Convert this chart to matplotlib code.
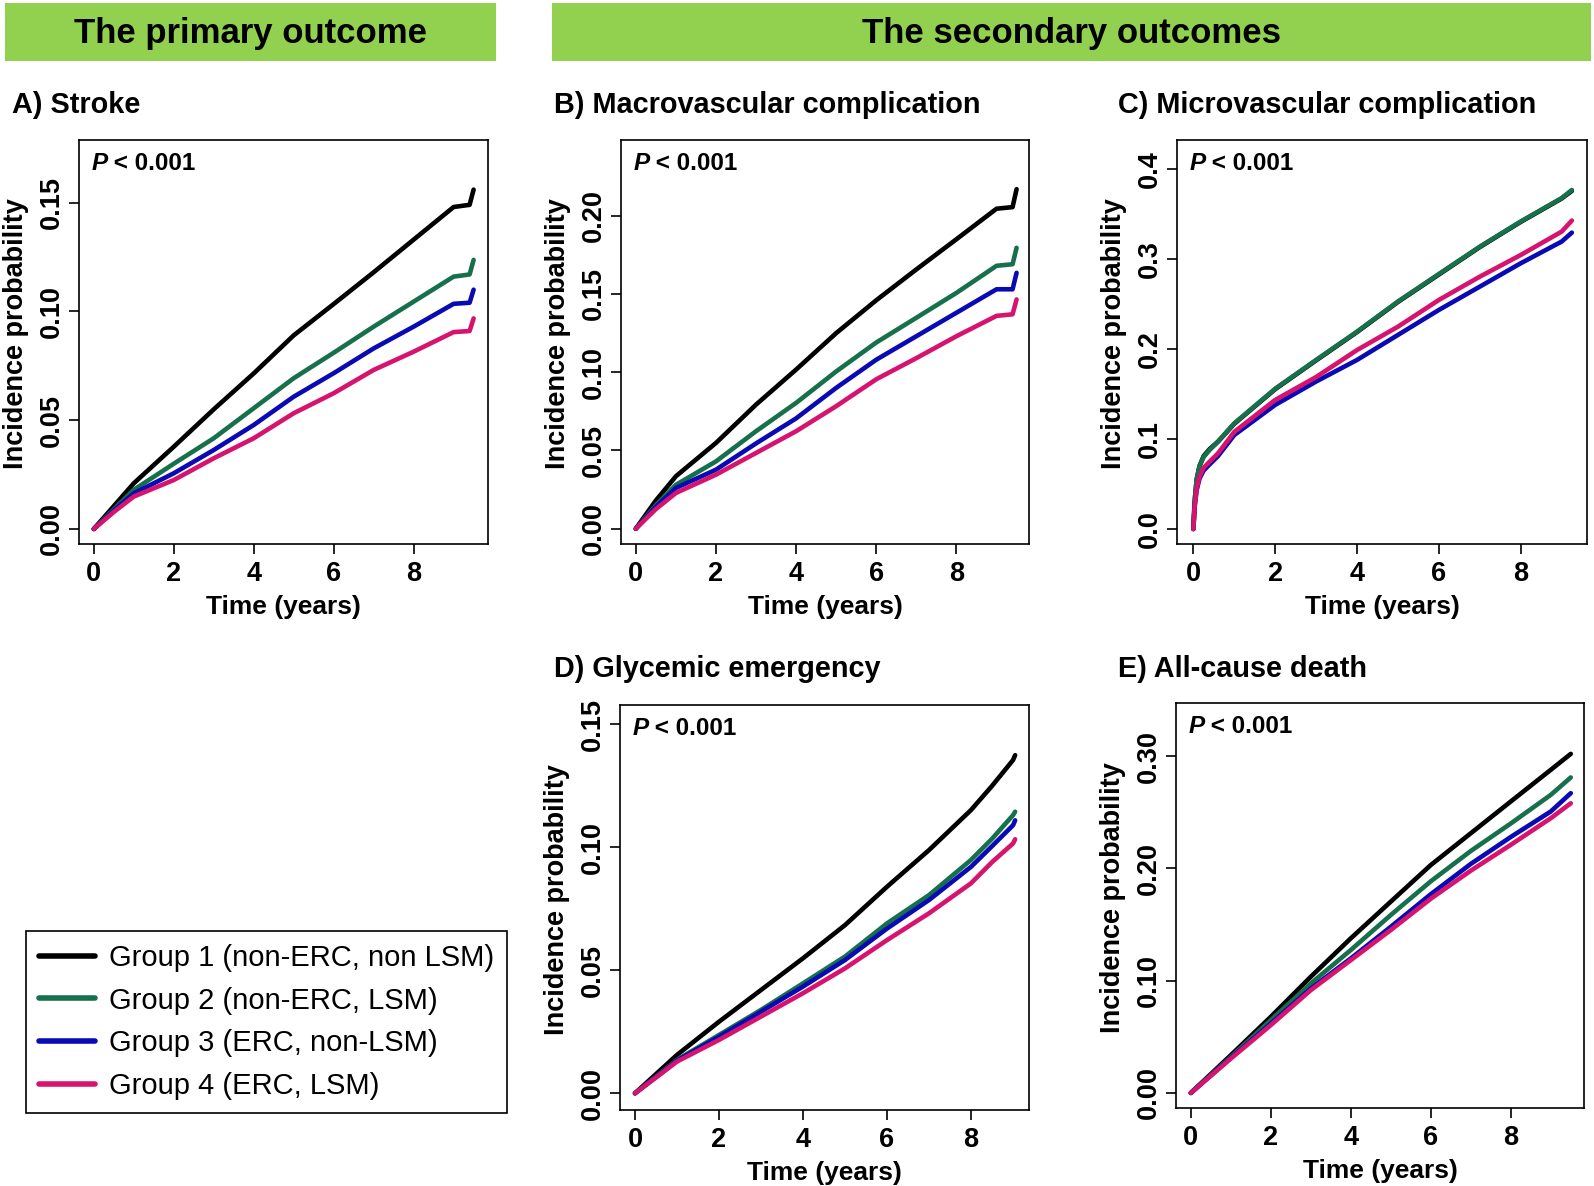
import matplotlib
matplotlib.use("Agg")
import matplotlib.pyplot as plt
from matplotlib.patches import Rectangle

plt.rcParams["font.family"] = ["Liberation Sans", "DejaVu Sans"]

W, H = 1594, 1186

group_labels = ["Group 1 (non-ERC, non LSM)", "Group 2 (non-ERC, LSM)",
                "Group 3 (ERC, non-LSM)", "Group 4 (ERC, LSM)"]
group_colors = ["#000000", "#17704C", "#0A0AB4", "#D6136E"]

# A) Stroke
t_stroke = [0, 0.5, 1, 2, 3, 4, 5, 6, 7, 8, 9, 9.4, 9.5]
stroke = [
    [0, 0.0105, 0.021, 0.0378, 0.055, 0.0715, 0.089, 0.1034, 0.118, 0.133, 0.148, 0.149, 0.156],
    [0, 0.009, 0.018, 0.030, 0.0417, 0.0555, 0.0693, 0.081, 0.093, 0.1045, 0.116, 0.117, 0.1237],
    [0, 0.0085, 0.0164, 0.0256, 0.0363, 0.0478, 0.0608, 0.0716, 0.083, 0.093, 0.1035, 0.104, 0.110],
    [0, 0.0078, 0.0149, 0.0225, 0.0325, 0.0417, 0.0532, 0.0624, 0.0731, 0.0815, 0.0905, 0.091, 0.0968],
]

# B) Macrovascular complication
t_macro = [0, 0.5, 1, 2, 3, 4, 5, 6, 7, 8, 9, 9.4, 9.5]
macro = [
    [0, 0.018, 0.0335, 0.0548, 0.0793, 0.1017, 0.125, 0.146, 0.1657, 0.185, 0.2045, 0.2055, 0.217],
    [0, 0.015, 0.028, 0.043, 0.0623, 0.0804, 0.1005, 0.119, 0.1348, 0.1507, 0.168, 0.169, 0.1795],
    [0, 0.014, 0.026, 0.0377, 0.0545, 0.0705, 0.090, 0.108, 0.123, 0.138, 0.153, 0.153, 0.1635],
    [0, 0.0125, 0.0228, 0.0345, 0.0484, 0.0623, 0.0783, 0.0955, 0.109, 0.123, 0.136, 0.137, 0.1465],
]

# C) Microvascular complication
t_micro = [0, 0.03, 0.08, 0.15, 0.25, 0.4, 0.6, 1, 2, 3, 4, 5, 6, 7, 8, 9, 9.25]
micro = [
    [0, 0.03, 0.055, 0.07, 0.081, 0.089, 0.097, 0.117, 0.1555, 0.1875, 0.219, 0.2525, 0.283, 0.3135, 0.3415, 0.3675, 0.376],
    [0, 0.03, 0.055, 0.07, 0.080, 0.088, 0.097, 0.1175, 0.156, 0.188, 0.2195, 0.253, 0.2836, 0.314, 0.342, 0.368, 0.377],
    [0, 0.024, 0.043, 0.056, 0.065, 0.072, 0.081, 0.1045, 0.138, 0.164, 0.188, 0.2158, 0.2436, 0.2695, 0.2955, 0.3196, 0.3296],
    [0, 0.025, 0.045, 0.058, 0.068, 0.075, 0.084, 0.108, 0.1435, 0.169, 0.199, 0.225, 0.2547, 0.2806, 0.3047, 0.3307, 0.343],
]

# D) Glycemic emergency
t_glyc = [0, 0.5, 1, 2, 3, 4, 5, 6, 7, 8, 8.5, 9, 9.05]
glyc = [
    [0, 0.0078, 0.0156, 0.0291, 0.042, 0.0549, 0.0684, 0.084, 0.0989, 0.1152, 0.125, 0.1355, 0.1375],
    [0, 0.0068, 0.0136, 0.0237, 0.0339, 0.0447, 0.0556, 0.0691, 0.0806, 0.0949, 0.1035, 0.1131, 0.1145],
    [0, 0.0066, 0.0133, 0.023, 0.0332, 0.0434, 0.0542, 0.067, 0.0786, 0.0921, 0.1005, 0.109, 0.111],
    [0, 0.0064, 0.0129, 0.0217, 0.0312, 0.0407, 0.0508, 0.0623, 0.0732, 0.0854, 0.094, 0.1016, 0.1033],
]

# E) All-cause death
t_death = [0, 1, 2, 3, 4, 5, 6, 7, 8, 9, 9.5]
death = [
    [0, 0.0336, 0.0678, 0.1035, 0.1377, 0.1704, 0.203, 0.2313, 0.2596, 0.2878, 0.302],
    [0, 0.032, 0.0648, 0.0975, 0.1273, 0.1585, 0.1885, 0.2155, 0.240, 0.2655, 0.281],
    [0, 0.0312, 0.0618, 0.093, 0.1198, 0.148, 0.177, 0.204, 0.228, 0.2507, 0.267],
    [0, 0.0306, 0.0604, 0.0916, 0.1183, 0.1451, 0.173, 0.198, 0.221, 0.2447, 0.258],
]

x_ticks = [0, 2, 4, 6, 8]

panels = [
    # title, time, series, yticks, ytick labels, xlim, ylim, box (l, t, r, b) in px, title pos
    ("A) Stroke", t_stroke, stroke, [0, 0.05, 0.10, 0.15], ["0.00", "0.05", "0.10", "0.15"],
     (-0.37, 9.86), (-0.0069, 0.1788), (79, 140, 488, 544), (12, 105)),
    ("B) Macrovascular complication", t_macro, macro, [0, 0.05, 0.10, 0.15, 0.20],
     ["0.00", "0.05", "0.10", "0.15", "0.20"],
     (-0.37, 9.81), (-0.0098, 0.2484), (621, 140, 1029, 544), (554, 105)),
    ("C) Microvascular complication", t_micro, micro, [0, 0.1, 0.2, 0.3, 0.4],
     ["0.0", "0.1", "0.2", "0.3", "0.4"],
     (-0.40, 9.62), (-0.0167, 0.4326), (1177, 140, 1587, 544), (1118, 105)),
    ("D) Glycemic emergency", t_glyc, glyc, [0, 0.05, 0.10, 0.15], ["0.00", "0.05", "0.10", "0.15"],
     (-0.357, 9.38), (-0.0068, 0.1579), (620, 705, 1029, 1110), (554, 669)),
    ("E) All-cause death", t_death, death, [0, 0.10, 0.20, 0.30], ["0.00", "0.10", "0.20", "0.30"],
     (-0.37, 9.83), (-0.0134, 0.3473), (1176, 703, 1584, 1108), (1118, 669)),
]

fig = plt.figure(figsize=(W / 100, H / 100), dpi=100)

# green header bars
for (l, r, label) in [(5, 496, "The primary outcome"), (552, 1591, "The secondary outcomes")]:
    fig.add_artist(Rectangle((l / W, 1 - 61 / H), (r - l) / W, 58 / H,
                             transform=fig.transFigure, facecolor="#92D050", edgecolor="none"))
    fig.text((l + r) / 2 / W, 1 - 33 / H, label, ha="center", va="center",
             fontsize=25, fontweight="bold")

legend_lines = None
for title, t, series, yt, ytl, xl, yl, box, tpos in panels:
    l, tp, r, b = box
    ax = fig.add_axes([l / W, 1 - b / H, (r - l) / W, (b - tp) / H])
    lines = []
    for vals, c, lab in zip(series, group_colors, group_labels):
        ln, = ax.plot(t, vals, color=c, lw=3.3, label=lab, solid_capstyle="round")
        lines.append(ln)
    if legend_lines is None:
        legend_lines = lines
    ax.set_xlim(*xl)
    ax.set_ylim(*yl)
    ax.set_xticks(x_ticks)
    ax.set_yticks(yt)
    ax.set_yticklabels(ytl, rotation=90, va="center")
    ax.tick_params(axis="both", direction="out", length=7, width=1.2, labelsize=19.5)
    ax.tick_params(axis="x", pad=5)
    ax.tick_params(axis="y", pad=3)
    for lab in ax.get_xticklabels() + ax.get_yticklabels():
        lab.set_fontweight("bold")
    for sp in ax.spines.values():
        sp.set_linewidth(1.2)
    ax.set_xlabel("Time (years)", fontsize=19, fontweight="bold", labelpad=6)
    ax.set_ylabel("Incidence probability", fontsize=19.5, fontweight="bold")
    ax.yaxis.set_label_coords(-50 / (r - l), 0.52)
    p = ax.text(0.03, 0.925, "P", transform=ax.transAxes, fontsize=17.5,
                fontweight="bold", style="italic", va="baseline", ha="left")
    ax.annotate(" < 0.001", xy=(1, 0), xycoords=p, va="bottom", ha="left",
                fontsize=17.5, fontweight="bold")
    fig.text(tpos[0] / W, 1 - tpos[1] / H, title, ha="left", va="center",
             fontsize=20.8, fontweight="bold")

leg = fig.legend(legend_lines, group_labels, loc="upper left",
                 bbox_to_anchor=(26 / W, 1 - 931 / H), borderaxespad=0,
                 fontsize=21, frameon=True, fancybox=False, edgecolor="black",
                 framealpha=1, handlelength=1.9, handletextpad=0.5,
                 borderpad=0.45, labelspacing=0.5)
leg.get_frame().set_linewidth(1.2)
for h in leg.get_lines():
    h.set_linewidth(4)

fig.savefig("out.png", dpi=100)
